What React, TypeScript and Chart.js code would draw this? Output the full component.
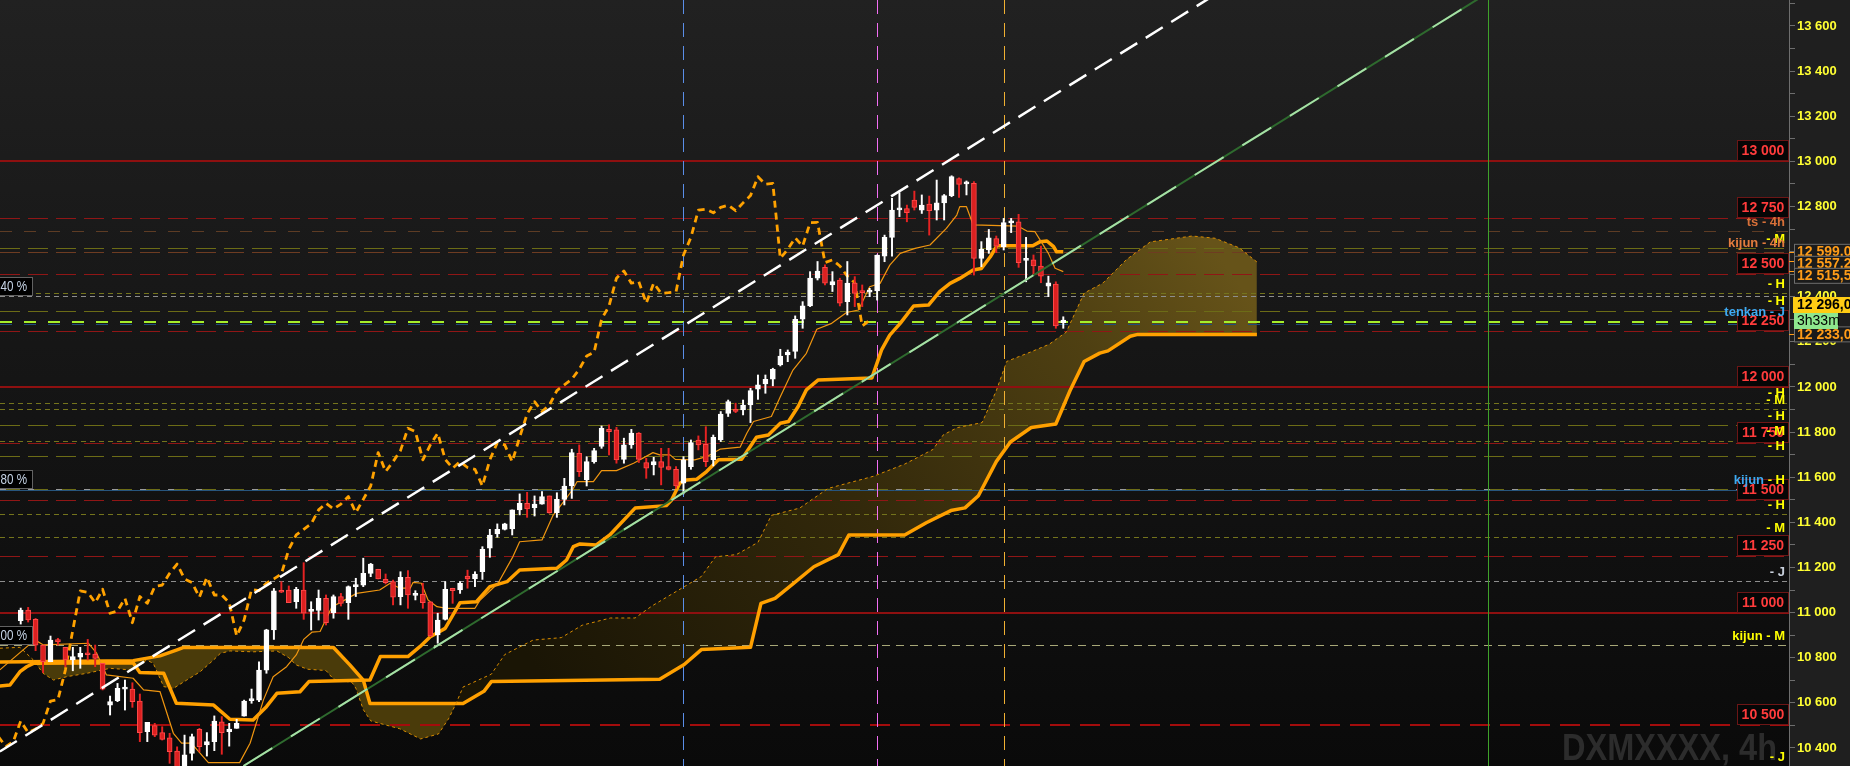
import React, { useEffect, useRef } from 'react';
import { Chart, registerables } from 'chart.js';

Chart.register(...registerables);

// ---------------- candles (4h) ----------------
const opens = [
  10964, 11011, 10970, 10856, 10782, 10880, 10846, 10790, 10802, 10820,
  10816, 10775, 10590, 10610, 10661, 10661, 10608, 10472, 10499, 10468,
  10445, 10386, 10250, 10376, 10482, 10413, 10428, 10516, 10472, 10487,
  10541, 10610, 10612, 10745, 10923, 11096, 11100, 11048, 11100, 11005,
  11009, 11063, 11000, 11071, 11044, 11115, 11122, 11174, 11192, 11147,
  11137, 11071, 11156, 11076, 11081, 11048, 10901, 10970, 11107, 11100,
  11162, 11149, 11181, 11285, 11349, 11369, 11371, 11455, 11484, 11465,
  11481, 11517, 11443, 11502, 11561, 11706, 11588, 11669, 11736, 11812,
  11810, 11679, 11743, 11795, 11665, 11654, 11669, 11647, 11635, 11573,
  11647, 11765, 11746, 11677, 11765, 11883, 11901, 11898, 11920, 11990,
  12013, 12034, 12098, 12142, 12157, 12300, 12359, 12482, 12530, 12452,
  12474, 12378, 12460, 12420, 12420, 12426, 12580, 12663, 12785, 12791,
  12828, 12784, 12811, 12784, 12816, 12848, 12924, 12900, 12902, 12570,
  12607, 12658, 12622, 12727, 12732, 12561, 12563, 12536, 12447, 12456,
  12285,
];
const highs = [
  11020, 11023, 10974, 10856, 10896, 10886, 10846, 10846, 10846, 10881,
  10856, 10775, 10630, 10686, 10701, 10689, 10639, 10513, 10509, 10494,
  10465, 10405, 10457, 10462, 10487, 10468, 10542, 10539, 10509, 10527,
  10612, 10661, 10782, 10926, 11107, 11137, 11118, 11112, 11221, 11048,
  11100, 11078, 11078, 11085, 11118, 11152, 11241, 11218, 11192, 11171,
  11144, 11181, 11186, 11097, 11130, 11048, 10997, 11137, 11108, 11137,
  11188, 11181, 11292, 11369, 11393, 11396, 11455, 11526, 11533, 11517,
  11536, 11517, 11531, 11595, 11724, 11743, 11691, 11728, 11827, 11832,
  11821, 11773, 11812, 11798, 11684, 11688, 11728, 11728, 11647, 11691,
  11765, 11783, 11824, 11787, 11891, 11942, 11928, 11942, 11994, 12053,
  12053, 12083, 12167, 12164, 12315, 12378, 12511, 12556, 12541, 12511,
  12482, 12556, 12489, 12452, 12437, 12585, 12673, 12836, 12861, 12806,
  12868, 12851, 12846, 12917, 12853, 12936, 12927, 12913, 12910, 12644,
  12698, 12669, 12747, 12747, 12765, 12663, 12585, 12624, 12491, 12466,
  12311,
];
const lows = [
  10949, 10958, 10831, 10734, 10782, 10856, 10760, 10742, 10753, 10790,
  10760, 10657, 10546, 10605, 10568, 10580, 10428, 10428, 10450, 10435,
  10332, 10230, 10140, 10346, 10383, 10364, 10388, 10372, 10408, 10487,
  10541, 10598, 10605, 10731, 10881, 11088, 11044, 11019, 10970, 10923,
  10967, 10945, 10975, 11029, 10970, 11071, 11115, 11159, 11149, 11127,
  11034, 11034, 11019, 11056, 11019, 10893, 10864, 10967, 11041, 11085,
  11108, 11115, 11147, 11245, 11334, 11366, 11344, 11433, 11422, 11428,
  11481, 11440, 11422, 11477, 11506, 11603, 11561, 11662, 11728, 11699,
  11662, 11662, 11728, 11665, 11595, 11610, 11566, 11632, 11551, 11526,
  11635, 11721, 11647, 11650, 11758, 11869, 11886, 11876, 11842, 11945,
  11972, 12005, 12093, 12112, 12127, 12260, 12356, 12474, 12452, 12423,
  12359, 12319, 12356, 12356, 12400, 12385, 12555, 12580, 12755, 12732,
  12784, 12769, 12673, 12740, 12740, 12843, 12840, 12851, 12496, 12533,
  12592, 12595, 12607, 12684, 12530, 12466, 12496, 12462, 12400, 12260,
  12260,
];
const closes = [
  11011, 10967, 10856, 10782, 10878, 10870, 10790, 10805, 10819, 10813,
  10797, 10660, 10605, 10664, 10663, 10605, 10468, 10513, 10457, 10438,
  10383, 10250, 10369, 10450, 10406, 10428, 10519, 10468, 10484, 10509,
  10608, 10614, 10745, 10923, 11096, 11090, 11044, 11103, 10997, 11007,
  11063, 10955, 11071, 11041, 11115, 11122, 11174, 11215, 11149, 11133,
  11068, 11156, 11078, 11078, 11044, 10896, 10967, 11103, 11097, 11130,
  11149, 11171, 11280, 11344, 11369, 11393, 11455, 11484, 11459, 11481,
  11514, 11443, 11502, 11561, 11709, 11625, 11669, 11718, 11817, 11802,
  11677, 11743, 11795, 11679, 11640, 11669, 11643, 11635, 11561, 11677,
  11753, 11743, 11669, 11777, 11880, 11935, 11891, 11920, 11984, 12009,
  12034, 12078, 12137, 12154, 12300, 12359, 12482, 12514, 12460, 12467,
  12371, 12460, 12415, 12418, 12422, 12585, 12663, 12784, 12788, 12772,
  12796, 12806, 12781, 12816, 12848, 12932, 12898, 12902, 12570, 12610,
  12661, 12624, 12728, 12729, 12551, 12563, 12536, 12491, 12462, 12270,
  12296,
];

// ---------------- Ichimoku lines (bar index, price) ----------------
const tenkanPts = [
  [-2.8, 10746], [1.9, 10879], [3.0, 10857], [9.1, 10864], [10.2, 10820], [11.5, 10724],
  [15.1, 10709], [16.5, 10657], [18.7, 10650], [20.5, 10465], [21.6, 10421], [22.9, 10421],
  [25.2, 10335], [29.4, 10335], [30.8, 10421], [32.6, 10613], [33.9, 10716], [35.7, 10760],
  [37, 10812], [38, 10881], [39.1, 10913], [40.2, 10916], [41.8, 11026], [42.9, 11044],
  [45.1, 11085], [48.2, 11100], [49.6, 11130], [50.9, 11108], [52.3, 11108], [52.7, 11134],
  [53.8, 11130], [54.7, 11056], [55.9, 11026], [57.2, 11019], [61.0, 11019], [61.7, 11056],
  [64.1, 11130], [66.1, 11248], [67.0, 11314], [70.0, 11322], [70.6, 11366], [71.5, 11432],
  [73.1, 11499], [74.2, 11550], [74.7, 11580], [76.9, 11580], [78.0, 11629], [80.0, 11629],
  [82.3, 11662], [84.9, 11709], [85.8, 11699], [87.2, 11699], [87.9, 11679], [90.5, 11677],
  [92.1, 11691], [93.9, 11724], [96.6, 11733], [97.5, 11795], [98.4, 11847], [100.8, 11869],
  [102.0, 11957], [103.7, 12075], [105.5, 12149], [106.9, 12256], [108.9, 12282], [110.9, 12330],
  [112.5, 12341], [114.0, 12444], [115.4, 12459], [116.7, 12540], [118.1, 12592], [120.1, 12614],
  [122.1, 12629], [124.3, 12703], [125.7, 12762], [126.1, 12799], [127.0, 12799], [127.9, 12718],
  [133.9, 12713], [135.1, 12691], [136.2, 12688], [136.9, 12651], [138.0, 12592], [138.9, 12526],
  [140, 12511],
];
const kijunPts = [
  [-2.8, 10675], [-1.44, 10679], [-0.1, 10738], [0.8, 10760], [1.7, 10775], [15.1, 10778],
  [16.0, 10734], [19.2, 10731], [20.9, 10598], [25.9, 10590], [28.1, 10527], [31.2, 10524],
  [33.0, 10583], [34.4, 10642], [37.5, 10649], [38.7, 10694], [46.9, 10701], [48.3, 10805],
  [52.0, 10805], [53.6, 10849], [55.0, 10893], [57.0, 10930], [59.0, 11044], [61.2, 11048],
  [63.0, 11115], [65.3, 11137], [67.0, 11189], [72.0, 11196], [73.3, 11233], [74.2, 11292],
  [75.1, 11304], [77.3, 11300], [79.1, 11344], [82.5, 11463], [86.7, 11474], [87.4, 11499],
  [88.5, 11573], [89.4, 11588], [90.8, 11591], [92.1, 11625], [93.7, 11677], [96.8, 11679],
  [97.5, 11713], [98.8, 11777], [100.4, 11787], [102.0, 11839], [103.1, 11847], [104.4, 11913],
  [105.5, 11987], [107.1, 12031], [114.3, 12040], [115.6, 12164], [116.7, 12230], [118.1, 12282],
  [119.9, 12359], [121.9, 12363], [123.4, 12422], [124.8, 12459], [126.1, 12481], [127.9, 12518],
  [129.0, 12525], [130.2, 12577], [131.1, 12626], [135.9, 12626], [136.9, 12644], [137.8, 12647],
  [138.7, 12622], [139.1, 12599], [140, 12599],
];
const senkouAPts = [
  [-2.8, 10842], [-0.1, 10846], [1.7, 10790], [3.0, 10731], [4.4, 10701], [6.2, 10716],
  [8.9, 10731], [12.0, 10753], [15.1, 10745], [16.9, 10790], [17.8, 10775], [19.2, 10672],
  [20.5, 10664], [22.3, 10701], [24.1, 10738], [25.9, 10790], [26.8, 10819], [28.1, 10830],
  [31.2, 10826], [34.4, 10830], [36, 10800], [37, 10768], [38.5, 10749], [41, 10743],
  [42, 10705], [44.5, 10690], [45, 10665], [46, 10570], [47, 10520], [48.1, 10510],
  [50.9, 10485], [53.7, 10440], [56.1, 10462], [57.5, 10532], [58.5, 10600], [59.4, 10670],
  [63.2, 10727], [65.0, 10814], [68.8, 10878], [72.6, 10889], [75.4, 10944], [79.2, 10976],
  [82.5, 10976], [84.8, 11030], [91.4, 11160], [93.3, 11247], [96.1, 11257], [99.0, 11311],
  [100.8, 11431], [104.6, 11463], [108.4, 11550], [114.5, 11604], [118.7, 11658], [122.5, 11723],
  [123.9, 11788], [125.8, 11820], [129.1, 11842], [131.0, 11983], [132.4, 12113], [135.7, 12156],
  [138.1, 12189], [140.4, 12243], [142.8, 12416], [145.3, 12460], [148.5, 12565], [151.7, 12643],
  [154.1, 12654], [157.3, 12669], [160.4, 12659], [163.6, 12617], [166, 12554],
];
const senkouBPts = [
  [-2.8, 10781], [15.1, 10787], [18.7, 10808], [20.9, 10834], [21.8, 10845], [42.0, 10845],
  [44.2, 10768], [46.0, 10701], [46.9, 10597], [59.4, 10597], [62.2, 10651], [63.2, 10694],
  [85.8, 10705], [89.1, 10770], [91.4, 10836], [98.0, 10846], [99.4, 11041], [101.3, 11063],
  [103.7, 11127], [106.5, 11203], [109.8, 11257], [111.2, 11344], [118.7, 11344], [121.6, 11398],
  [124.9, 11452], [126.8, 11464], [128.6, 11518], [131.0, 11669], [132.9, 11756], [135.7, 11820],
  [139.0, 11836], [140.9, 11983], [142.8, 12113], [144.9, 12150], [146, 12160], [149, 12225],
  [150, 12233], [166, 12233],
];
const chikouShift = 26;

// ---------------- drawings ----------------
const whiteTrend = [[-2.8, 10384], [162, 13772]];
const greenTrend = [[29.9, 10320], [197, 13746]];
const markerBars = [89, 115, 132];
const greenMarkerBar = 197;

// horizontal levels
const redSolidLevels = [13000, 12000, 11000];
const redDashedLevels = [12750, 12500, 12250, 11750, 11500, 11250];
const redBoldLevels = [10500];
const oliveLongLevels = [12615, 12337, 11831, 11695];
const oliveShortLevels = [12415, 11930, 11901, 11762, 11436, 11334];
const greyShortLevels = [12402, 11140];
const brownShortLevels = [12690];
const brownLongLevels = [12597];
const limeLevels = [12289];
const kijunHLevels = [11546];
const kijunMLevels = [10856];

const levelLabelTexts = ['ts - 4h', '- M', 'kijun - 4h', '- H', '- H', 'tenkan - J', '- H', '- M', '- H', '- M', '- H', 'kijun - H', '- H', '- M', '- J', 'kijun - M', '- J'];
const levelLabelValues = [12690, 12615, 12597, 12415, 12337, 12289, 11930, 11901, 11831, 11762, 11695, 11546, 11436, 11334, 11140, 10856, 10318];
const levelLabelKinds = ['ts', 'y', 'k4', 'y', 'y', 'tk', 'y', 'y', 'y', 'y', 'y', 'kh', 'y', 'y', 'gj', 'y', 'y'];

const pctTexts = ['40 %', '80 %', '00 %'];
const pctValues = [12402, 11546, 10856];

const tagValues = [12599.0, 12557.25, 12515.5, 12233.0];
const lastPrice = 12296.0;
const countdownText = '3h33m';
const watermarkText = 'DXMXXXX, 4h';

const X_MIN = -2.78;
const X_MAX = 237.45;
const Y_MIN = 10320;
const Y_MAX = 13715;
const TICK_STEP = 100;
const LABEL_STEP = 200;

const FONT = '"Liberation Sans", Arial, sans-serif';

function fmtInt(v: number) {
  return Math.round(v).toString().replace(/\B(?=(\d{3})+(?!\d))/g, ' ');
}
function fmtDec(v: number) {
  const [i, d] = v.toFixed(2).split('.');
  return fmtInt(Number(i)) + ',' + d;
}

const H_STYLES: any = {
  redSolid: ['#8e1010', 2, []],
  redDash: ['#901616', 1, [20, 8]],
  redBold: ['#a30c0c', 2, [20, 10]],
  oliveLong: ['#6c6c16', 1, [20, 8]],
  oliveShort: ['#74741c', 1, [5, 4]],
  greyShort: ['#8e8e8e', 1, [5, 4]],
  brownShort: ['#5e3c24', 1, [12, 12]],
  brownLong: ['#6e3c22', 1, [20, 8]],
};

const LABEL_COLORS: any = {
  y: '#ffff00',
  ts: '#d87038',
  k4: '#e47c3e',
  tk: '#3eaaf2',
  kh: '#3eaaf2',
  gj: '#c8d0dc',
};

const decorPlugin = {
  id: 'decor',
  beforeDraw(chart: any) {
    const { ctx, chartArea: a, width, height } = chart;
    ctx.save();
    const g = ctx.createLinearGradient(0, 0, 0, height);
    g.addColorStop(0, '#212121');
    g.addColorStop(0.45, '#161616');
    g.addColorStop(1, '#0a0a0a');
    ctx.fillStyle = g;
    ctx.fillRect(0, 0, a.right, height);
    ctx.fillStyle = '#1f1f1f';
    ctx.fillRect(a.right, 0, width - a.right, height);
    ctx.restore();
  },
  beforeDatasetsDraw(chart: any) {
    const { ctx, chartArea: a, scales } = chart;
    const x = scales.x;
    const y = scales.y;
    ctx.save();
    ctx.beginPath();
    ctx.rect(a.left, a.top, a.right - a.left, a.bottom - a.top);
    ctx.clip();

    // watermark
    ctx.save();
    ctx.font = `bold 37px ${FONT}`;
    const ww = ctx.measureText(watermarkText).width;
    ctx.translate(a.right - 12, 760);
    ctx.scale(215 / ww, 1);
    ctx.textAlign = 'right';
    ctx.textBaseline = 'alphabetic';
    ctx.fillStyle = '#2c2c2c';
    ctx.fillText(watermarkText, 0, 0);
    ctx.restore();

    const hline = (v: number, color: string, w: number, dash: number[], dy = 0) => {
      let py = Math.round(y.getPixelForValue(v)) + dy;
      if (w % 2 === 1) py += 0.5;
      ctx.strokeStyle = color;
      ctx.lineWidth = w;
      ctx.setLineDash(dash);
      ctx.beginPath();
      ctx.moveTo(a.left, py);
      ctx.lineTo(a.right, py);
      ctx.stroke();
    };
    const apply = (levels: number[], key: string) => {
      const [c, w, d] = H_STYLES[key];
      levels.forEach((v) => hline(v, c, w, d));
    };
    apply(oliveLongLevels, 'oliveLong');
    apply(oliveShortLevels, 'oliveShort');
    apply(greyShortLevels, 'greyShort');
    apply(brownShortLevels, 'brownShort');
    apply(brownLongLevels, 'brownLong');
    kijunHLevels.forEach((v) => {
      hline(v, '#27557e', 1, [], 1);
      hline(v, '#6c6c16', 1, [20, 8]);
      hline(v, '#9a9a9a', 1, [6, 22]);
    });
    kijunMLevels.forEach((v) => hline(v, '#a8a878', 1, [8, 6]));
    limeLevels.forEach((v) => {
      hline(v, '#1e4f7a', 1, [12, 12], 2);
      hline(v, '#a6ee2a', 2, [12, 12]);
    });
    apply(redDashedLevels, 'redDash');
    apply(redBoldLevels, 'redBold');
    apply(redSolidLevels, 'redSolid');

    // vertical markers
    const vline = (idx: number, color: string, w: number, dash: number[]) => {
      const px = Math.round(x.getPixelForValue(idx)) + 0.5;
      ctx.strokeStyle = color;
      ctx.lineWidth = w;
      ctx.setLineDash(dash);
      ctx.beginPath();
      ctx.moveTo(px, a.top);
      ctx.lineTo(px, a.bottom);
      ctx.stroke();
    };
    const markerColors = ['#5a8ee8', '#f26ef2', '#f0b032'];
    markerBars.forEach((b, i) => vline(b, markerColors[i], 1, [14, 9]));
    vline(greenMarkerBar, '#3fa22a', 1, []);
    ctx.restore();
  },
  afterDraw(chart: any) {
    const { ctx, chartArea: a, scales } = chart;
    const y = scales.y;
    const Y = (v: number) => y.getPixelForValue(v);
    ctx.save();
    ctx.setLineDash([]);

    // round level boxes
    ctx.font = `bold 14px ${FONT}`;
    ctx.textAlign = 'center';
    ctx.textBaseline = 'middle';
    [...redSolidLevels, ...redDashedLevels, ...redBoldLevels].forEach((v) => {
      const py = Math.round(Y(v));
      ctx.fillStyle = '#060606';
      ctx.fillRect(a.right - 52, py - 21, 52, 20);
      ctx.strokeStyle = '#6c1616';
      ctx.lineWidth = 1;
      ctx.strokeRect(a.right - 51.5, py - 20.5, 51, 20);
      ctx.fillStyle = '#ff3c3c';
      ctx.fillText(fmtInt(v), a.right - 26, py - 10);
    });

    // level labels
    ctx.font = `bold 13px ${FONT}`;
    ctx.textAlign = 'right';
    levelLabelValues.forEach((v, i) => {
      const py = Y(v) - 9;
      const kind = levelLabelKinds[i];
      const text = levelLabelTexts[i];
      const xr = a.right - 4;
      if (kind === 'kh') {
        const parts = text.split(' - ');
        const suf = ' - ' + parts[1];
        ctx.fillStyle = LABEL_COLORS.y;
        ctx.fillText(suf, xr, py);
        ctx.fillStyle = LABEL_COLORS.kh;
        ctx.fillText(parts[0], xr - ctx.measureText(suf).width, py);
      } else {
        ctx.fillStyle = LABEL_COLORS[kind];
        ctx.fillText(text, xr, py);
      }
    });

    // left percentage labels (narrow face)
    pctValues.forEach((v, i) => {
      const py = Math.round(Y(v));
      ctx.fillStyle = '#000000';
      ctx.fillRect(-2, py - 19, 35, 19);
      ctx.strokeStyle = '#626262';
      ctx.strokeRect(-1.5, py - 18.5, 34, 18);
      ctx.save();
      ctx.font = `15px ${FONT}`;
      const tw = ctx.measureText(pctTexts[i]).width;
      ctx.translate(27, py - 9);
      ctx.scale(Math.min(1, 26.5 / tw), 1);
      ctx.fillStyle = '#c6d4e6';
      ctx.textAlign = 'right';
      ctx.textBaseline = 'middle';
      ctx.fillText(pctTexts[i], 0, 0);
      ctx.restore();
    });

    // right axis tags
    ctx.font = `bold 14px ${FONT}`;
    ctx.textAlign = 'left';
    ctx.textBaseline = 'middle';
    let prev = -Infinity;
    tagValues.forEach((v) => {
      const vy = Y(v);
      let cy = vy;
      if (cy < prev + 12) cy = prev + 12;
      prev = cy;
      ctx.fillStyle = '#1b1b1b';
      ctx.fillRect(a.right + 5, cy - 8, 70, 16);
      ctx.strokeStyle = '#6e6e6e';
      ctx.strokeRect(a.right + 5.5, cy - 7.5, 70, 15);
      ctx.fillStyle = '#ff9c18';
      ctx.fillText(fmtDec(v), a.right + 8, cy + 0.5);
      ctx.strokeStyle = '#ff9c18';
      ctx.beginPath();
      ctx.moveTo(a.right, Math.round(vy) + 0.5);
      ctx.lineTo(a.right + 5, Math.round(vy) + 0.5);
      ctx.stroke();
    });

    // last price + countdown
    const py = Math.round(Y(lastPrice));
    ctx.fillStyle = '#ffcc14';
    ctx.fillRect(a.right + 4, py - 23, 70, 16);
    ctx.fillStyle = '#000000';
    ctx.fillText(fmtDec(lastPrice), a.right + 8, py - 14.5);
    ctx.fillStyle = '#8ee68e';
    ctx.fillRect(a.right + 5, py - 7, 44, 16);
    ctx.fillStyle = '#000000';
    ctx.font = `14px ${FONT}`;
    ctx.fillText(countdownText, a.right + 8, py + 1.5);
    ctx.restore();
  },
};

const toPts = (arr: number[][]) => arr.map(([x, y]) => ({ x, y }));

export default function App() {
  const ref = useRef<HTMLCanvasElement | null>(null);

  useEffect(() => {
    document.body.style.margin = '0';
    document.body.style.background = '#000';
    const canvas = ref.current as HTMLCanvasElement;
    const c2 = canvas.getContext('2d') as CanvasRenderingContext2D;

    const cloudUp = c2.createLinearGradient(560, 700, 1200, 230);
    cloudUp.addColorStop(0, '#1a1505');
    cloudUp.addColorStop(0.45, '#33290b');
    cloudUp.addColorStop(0.8, '#4f4012');
    cloudUp.addColorStop(1, '#665319');

    const up = closes.map((c, i) => c >= opens[i]);
    const wickData = opens.map((_, i) => ({ x: i, y: [lows[i], highs[i]] }));
    const bodyData = opens.map((_, i) => ({ x: i, y: [opens[i], closes[i]] }));
    const chikouData = closes
      .map((c, i) => ({ x: i - chikouShift, y: c }))
      .filter((p) => p.x >= -4);

    const lineBase = {
      type: 'line',
      pointRadius: 0,
      pointHoverRadius: 0,
      tension: 0,
      fill: false,
      backgroundColor: 'transparent',
      borderCapStyle: 'butt',
      borderJoinStyle: 'round',
    };

    const chart = new Chart(canvas, {
      type: 'line',
      data: {
        datasets: [
          {
            ...lineBase,
            label: 'senkouB',
            data: toPts(senkouBPts),
            borderColor: '#ffa000',
            borderWidth: 3.5,
            order: 20,
          },
          {
            ...lineBase,
            label: 'senkouA',
            data: toPts(senkouAPts),
            borderColor: '#d98c00',
            borderWidth: 1,
            borderDash: [3, 3],
            fill: { target: 0, above: cloudUp, below: '#4a3b0a' },
            order: 19,
          },
          {
            ...lineBase,
            label: 'chikou',
            data: chikouData,
            borderColor: '#ffa200',
            borderWidth: 2.8,
            borderDash: [7, 5],
            order: 10,
          },
          {
            ...lineBase,
            label: 'kijun',
            data: toPts(kijunPts),
            borderColor: '#ffa000',
            borderWidth: 3.5,
            order: 9,
          },
          {
            ...lineBase,
            label: 'tenkan',
            data: toPts(tenkanPts),
            borderColor: '#f09610',
            borderWidth: 1.2,
            order: 8,
          },
          {
            type: 'bar',
            label: 'wicks',
            data: wickData,
            backgroundColor: up.map((u) => (u ? '#ffffff' : '#e62222')),
            borderWidth: 0,
            barThickness: 1.3,
            grouped: false,
            order: 5,
          },
          {
            type: 'bar',
            label: 'bodies',
            data: bodyData,
            backgroundColor: up.map((u) => (u ? '#ffffff' : '#dc2020')),
            borderColor: up.map((u) => (u ? '#ffffff' : '#ff4a4a')),
            borderWidth: 1,
            borderSkipped: false,
            barThickness: 5,
            minBarLength: 2,
            grouped: false,
            order: 4,
          },
          {
            ...lineBase,
            label: 'greenDark',
            data: toPts(greenTrend),
            borderColor: '#2e6a2e',
            borderWidth: 2,
            order: 2,
          },
          {
            ...lineBase,
            label: 'greenLight',
            data: toPts(greenTrend),
            borderColor: '#a6e0a6',
            borderWidth: 2,
            borderDash: [34, 22],
            order: 1,
          },
          {
            ...lineBase,
            label: 'whiteTrend',
            data: toPts(whiteTrend),
            borderColor: '#ffffff',
            borderWidth: 2.5,
            borderDash: [20, 10],
            order: 0,
          },
        ] as any,
      },
      options: {
        responsive: false,
        animation: false,
        devicePixelRatio: 1,
        events: [],
        layout: { padding: 0 },
        plugins: {
          legend: { display: false },
          tooltip: { enabled: false },
          filler: { drawTime: 'beforeDatasetsDraw' },
        },
        scales: {
          x: {
            type: 'linear',
            min: X_MIN,
            max: X_MAX,
            display: false,
            offset: false,
            grid: { display: false },
          },
          y: {
            type: 'linear',
            position: 'right',
            min: Y_MIN,
            max: Y_MAX,
            afterBuildTicks: (s: any) => {
              const t = [];
              for (let v = Math.ceil(Y_MIN / TICK_STEP) * TICK_STEP; v <= Y_MAX; v += TICK_STEP) t.push({ value: v });
              s.ticks = t;
            },
            afterFit: (s: any) => {
              s.width = 61;
              s.paddingTop = 0;
              s.paddingBottom = 0;
            },
            ticks: {
              autoSkip: false,
              padding: 2,
              color: '#ffff33',
              font: { family: FONT, size: 13, weight: 'bold' },
              callback: (v: any) => (Number(v) % LABEL_STEP === 0 ? fmtInt(Number(v)) : ''),
            },
            grid: { drawOnChartArea: false, drawTicks: true, tickLength: 6, color: '#6e6e6e' },
            border: { display: true, color: '#6e6e6e', width: 1 },
          },
        },
      } as any,
      plugins: [decorPlugin as any],
    } as any);

    return () => chart.destroy();
  }, []);

  return (
    <div style={{ width: 1850, height: 766, overflow: 'hidden', background: '#000' }}>
      <canvas ref={ref} width={1850} height={766} style={{ display: 'block', width: 1850, height: 766 }} />
    </div>
  );
}
